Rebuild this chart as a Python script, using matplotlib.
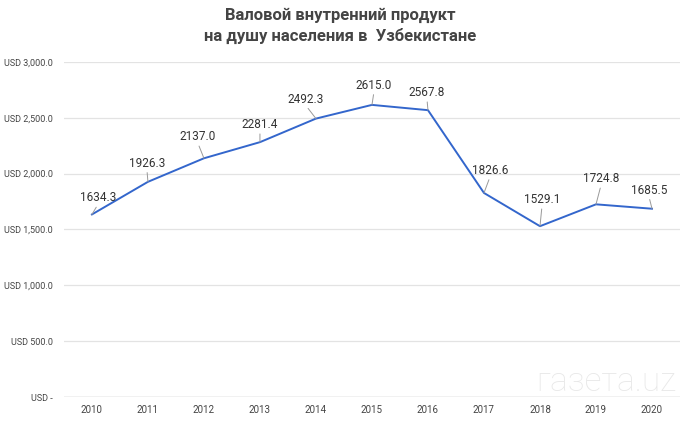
import matplotlib.pyplot as plt

plt.rcParams['font.family'] = ['Roboto', 'DejaVu Sans']

years = ['2010', '2011', '2012', '2013', '2014', '2015', '2016', '2017', '2018', '2019', '2020']
gdp = [1634.3, 1926.3, 2137.0, 2281.4, 2492.3, 2615.0, 2567.8, 1826.6, 1529.1, 1724.8, 1685.5]
y_ticks = [0, 500, 1000, 1500, 2000, 2500, 3000]
y_labels = ['USD -', 'USD 500.0', 'USD 1,000.0', 'USD 1,500.0', 'USD 2,000.0', 'USD 2,500.0', 'USD 3,000.0']

# смещения подписей (в пикселях) относительно точек
label_offsets = [(6, 10), (-1, 12), (-6, 15), (0, 11), (-10, 13), (2, 13),
                 (-1, 11), (6, 16), (2, 20), (5, 19), (-3, 12)]

fig = plt.figure(figsize=(6.8, 4.21), dpi=100)
ax = fig.add_axes([0.094, 0.057, 0.906, 0.796])

x = list(range(len(years)))
ax.plot(x, gdp, color='#3366cc', linewidth=1.4, zorder=3)

for i, v in enumerate(gdp):
    dx, dy = label_offsets[i]
    ax.annotate(f'{v:.1f}', xy=(i, v), xytext=(dx, dy), textcoords='offset pixels',
                ha='center', va='bottom', fontsize=8.5, color='#333333',
                arrowprops=dict(arrowstyle='-', color='#999999', lw=0.7,
                                shrinkA=0, shrinkB=0, relpos=(0.5, 0)))

ax.set_xlim(-0.5, 10.5)
ax.set_ylim(0, 3000)
ax.set_xticks(x)
ax.set_xticklabels(years)
ax.set_yticks(y_ticks)
ax.set_yticklabels(y_labels)
ax.tick_params(axis='both', length=0, labelsize=7, labelcolor='#444444')
ax.tick_params(axis='y', labelsize=6.5, pad=8)
ax.tick_params(axis='x', pad=6)
ax.grid(axis='y', color='#e3e3e3', linewidth=0.9)
for s in ax.spines.values():
    s.set_visible(False)
ax.axhline(0, color='#cccccc', linewidth=1.0, zorder=2)

fig.text(0.5, 0.964, 'Валовой внутренний продукт', ha='center', va='center',
         fontsize=12, fontweight='bold', color='#444444')
fig.text(0.5, 0.914, 'на душу населения в  Узбекистане', ha='center', va='center',
         fontsize=12, fontweight='bold', color='#444444')

# водяной знак
fig.text(0.995, 0.092, 'газета.uz', ha='right', va='center', fontsize=24,
         fontweight='light', color='#e8e8e8', zorder=0)

fig.savefig('out.png', dpi=100)
